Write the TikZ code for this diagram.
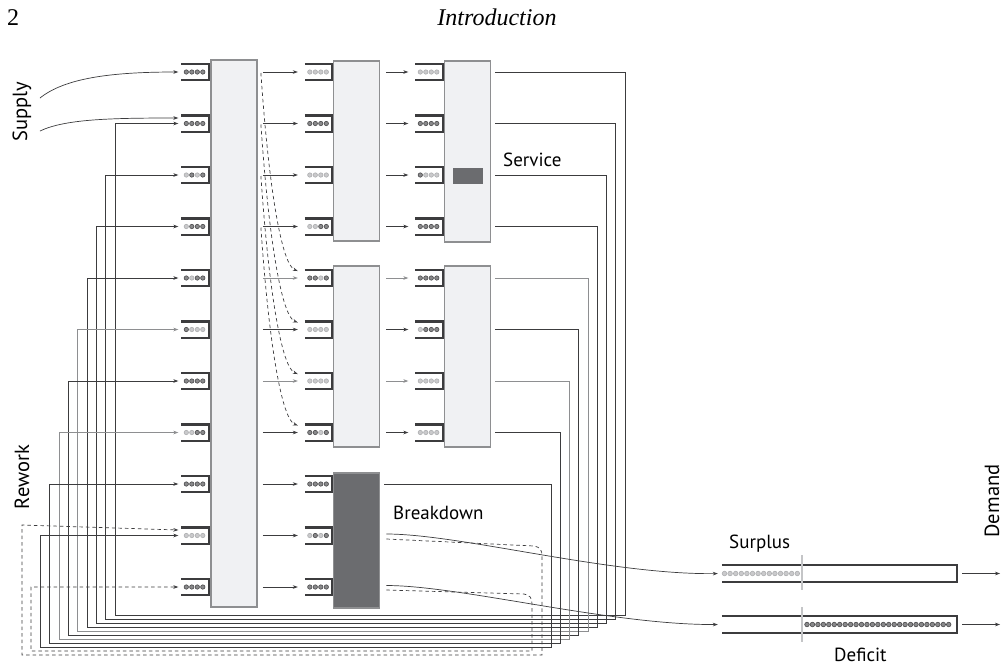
\documentclass[tikz,border=0pt]{standalone}
\usepackage{fontspec}
\setsansfont{PT Sans}
\newfontfamily\bookfont{Liberation Serif}
\usetikzlibrary{arrows.meta,calc}
\definecolor{Ink}{HTML}{3C3C3E}
\definecolor{Slate}{HTML}{8E8F91}
\definecolor{Pale}{HTML}{F0F1F3}
\definecolor{Char}{HTML}{6B6C6F}
\definecolor{On}{HTML}{4A4A4C}
\definecolor{Off}{HTML}{ADAEB0}
\definecolor{Rule}{HTML}{C4C5C7}
\tikzset{
  queue/.style={minimum width=27pt,minimum height=16pt,inner sep=0pt},
  qline/.style={draw=Ink,line width=2.4pt},
  machine/.style={draw=Slate,line width=1.8pt,fill=Pale,minimum width=46pt,inner sep=0pt},
  wire/.style={draw=Ink,line width=0.7pt,-{Stealth[length=5pt,width=3.6pt]}},
  feed/.style={wire,shorten >=3pt,shorten <=4pt},
  rework/.style={wire,dash pattern=on 3.5pt off 3pt},
  tag/.style={font=\sffamily\fontsize{19}{19}\selectfont,inner sep=0pt},
  sidetag/.style={tag,font=\sffamily\fontsize{20.5}{20.5}\selectfont,rotate=90}
}
\newcommand{\queue}[3]{%
  \node[queue] (#1) at (#2) {};
  \draw[qline] (#1.north west) -- (#1.north east) -- (#1.south east) -- (#1.south west);
  \foreach \c [count=\i] in {#3}
    \filldraw[fill=\c!65,draw=\c,line width=0.6pt] ($(#1.west)+(\i*5.5-0.5,0)$) circle[radius=2.2pt];
}

\begin{document}
\begin{tikzpicture}[x=1pt,y=-1pt]
  \useasboundingbox[fill=white] (0,0) rectangle (1003,665);
  % page header
  \node[font=\bookfont\fontsize{24}{24}\selectfont,anchor=base west,inner sep=0pt] (page) at (7,25) {2};
  \node[font=\bookfont\itshape\fontsize{24}{24}\selectfont,anchor=base,inner sep=0pt] (title) at (497,25) {Introduction};

  % machines
  \node[machine,minimum height=547pt] (mA) at (234,333.5) {};
  \node[machine,minimum height=180pt] (mB1) at (356.5,151) {};
  \node[machine,minimum height=181pt] (mB2) at (356.5,356.5) {};
  \node[machine,minimum height=135pt,fill=Char] (mBk) at (356.5,540.5) {};
  \node[machine,minimum height=181pt] (mC1) at (467.5,151.5) {};
  \node[machine,minimum height=181pt] (mC2) at (467.5,356.5) {};
  \node[fill=Char,minimum width=30pt,minimum height=16pt,inner sep=0pt] (jam) at (467.5,176) {};

  % buffers, first stage
  \queue{qA1}{195,72}{On,On,On,On}
  \queue{qA2}{195,123.5}{On,On,On,On}
  \queue{qA3}{195,175}{Off,On,Off,On}
  \queue{qA4}{195,226.5}{Off,On,On,On}
  \queue{qA5}{195,278}{On,Off,On,On}
  \queue{qA6}{195,329.5}{On,Off,Off,Off}
  \queue{qA7}{195,381}{On,On,On,On}
  \queue{qA8}{195,432.5}{Off,Off,On,On}
  \queue{qA9}{195,484}{On,On,On,On}
  \queue{qA10}{195,535.5}{Off,Off,Off,Off}
  \queue{qA11}{195,587}{On,On,On,On}
  % second stage
  \queue{qB1}{318.5,72}{Off,Off,Off,Off}
  \queue{qB2}{318.5,123.5}{On,On,On,On}
  \queue{qB3}{318.5,175}{Off,Off,Off,Off}
  \queue{qB4}{318.5,226.5}{Off,Off,On,On}
  \queue{qB5}{318.5,278}{On,On,Off,On}
  \queue{qB6}{318.5,329.5}{Off,Off,Off,Off}
  \queue{qB7}{318.5,381}{Off,Off,Off,Off}
  \queue{qB8}{318.5,432.5}{On,On,Off,On}
  \queue{qB9}{318.5,484}{On,On,On,On}
  \queue{qB10}{318.5,535.5}{Off,On,Off,On}
  \queue{qB11}{318.5,587}{On,On,On,On}
  % third stage
  \queue{qC1}{429,72}{Off,Off,Off,Off}
  \queue{qC2}{429,123.5}{On,On,On,On}
  \queue{qC3}{429,175}{On,Off,Off,Off}
  \queue{qC4}{429,226.5}{On,On,On,On}
  \queue{qC5}{429,278}{On,On,On,On}
  \queue{qC6}{429,329.5}{Off,On,On,On}
  \queue{qC7}{429,381}{Off,Off,Off,Off}
  \queue{qC8}{429,432.5}{Off,Off,Off,Off}

  % forward flow
  \foreach \k/\c in {1/Ink,2/Ink,3/Ink,4/Ink,5/Slate,6/Ink,7/Slate,8/Ink,9/Ink,10/Ink,11/Ink}
    \draw[wire,draw=\c,shorten <=5pt,shorten >=7pt] (mA.east |- qB\k.west) -- (qB\k.west);
  \foreach \k/\c in {1/Ink,2/Ink,3/Ink,4/Ink,5/Slate,6/Ink,7/Slate,8/Ink}
    \draw[wire,draw=\c,shorten <=6pt,shorten >=7pt] (mB1.east |- qC\k.west) -- (qC\k.west);

  % rerouted jobs
  \foreach \k in {1,...,4}{
    \pgfmathtruncatemacro\n{\k+4}
    \draw[rework] ($(mA.east |- qA\k.west)+(3,1)$) .. controls +(8,117) and +(-16,-6) .. ($(qB\n.west)+(-7,-7)$);
  }

  % feedback loops
  \foreach \k/\m/\q/\c in {1/mC1/qC1/Ink,2/mC1/qC2/Ink,3/mC1/qC3/Ink,4/mC1/qC4/Ink,5/mC1/qC5/Slate,6/mC1/qC6/Ink,7/mC1/qC7/Slate,8/mC1/qC8/Ink,9/mBk/qB9/Ink}{
    \pgfmathtruncatemacro\n{\k+1}
    \draw[feed,draw=\c] (\m.east |- \q.west) -| ({625-(\k-1)*9.25},{615+(\k-1)*4})
      -- ({115-(\k-1)*9.35},{615+(\k-1)*4}) |- (qA\n.west);
  }

  % supply
  \coordinate (sup1) at (40,98);
  \coordinate (sup2) at (40,131);
  \draw[wire,shorten >=3pt] (sup1) .. controls +(25,-20) and +(-70,0) .. (qA1.west);
  \draw[wire,shorten >=3pt] (sup2) .. controls +(25,-12) and +(-70,0) .. ($(qA2.west)+(0,-5.5)$);

  % rework after breakdown
  \draw[rework] ($(mBk.east |- qB10.west)+(6,3.5)$) -- (534,546) .. controls (540,547) and (542,550) .. (542,556)
    -- (542,655) -- (22,655) -- (22,525) -- ($(qA10.west)+(-3,-5.5)$);
  \draw[rework] ($(mBk.east |- qB11.west)+(6,3)$) -- (524,594) .. controls (530,595) and (532,598) .. (532,604)
    -- (532,651) -- (31,651) -- (31,587) -- ($(qA11.west)+(-3,0)$);

  % finished goods
  \node[queue,minimum width=235pt,minimum height=17pt] (surplus) at (839.5,573.5) {};
  \node[queue,minimum width=235pt,minimum height=17pt] (deficit) at (839.5,624.5) {};
  \foreach \b in {surplus,deficit}
    \draw[qline] (\b.north west) -- (\b.north east) -- (\b.south east) -- (\b.south west);
  \foreach \i in {0,...,13}
    \filldraw[fill=Off!65,draw=Off,line width=0.6pt] (724.5+\i*5.6,573.5) circle[radius=2.3pt];
  \foreach \i in {0,...,26}
    \filldraw[fill=On!65,draw=On,line width=0.6pt] (807+\i*5.45,624.5) circle[radius=2.3pt];
  \draw[Rule,line width=2.5pt] (802,555) -- (802,590);
  \draw[Rule,line width=2.5pt] (802,607) -- (802,642);
  \draw[wire,shorten <=6pt,shorten >=4pt] (mBk.east |- 0,534) .. controls (460,534) and (610,575) .. (surplus.west);
  \draw[wire,shorten <=6pt,shorten >=4pt] (mBk.east |- 0,585.5) .. controls (460,585.5) and (610,625) .. (deficit.west);
  \coordinate (dem1) at (1000,573.5);
  \coordinate (dem2) at (1000,624.5);
  \draw[wire,shorten <=5pt] (surplus.east) -- (dem1);
  \draw[wire,shorten <=5pt] (deficit.east) -- (dem2);

  % labels
  \node[tag,anchor=base west] (service) at (503,166) {Service};
  \node[tag,anchor=base west] (broken) at (393,519) {Breakdown};
  \node[tag,anchor=base west] (surplustag) at (729,548) {Surplus};
  \node[tag,anchor=base west] (deficittag) at (834,661) {Deficit};
  \node[sidetag] (supply) at (22,112) {Supply};
  \node[sidetag] (rework) at (22,477) {Rework};
  \node[sidetag] (demand) at (992,501) {Demand};
\end{tikzpicture}
\end{document}
